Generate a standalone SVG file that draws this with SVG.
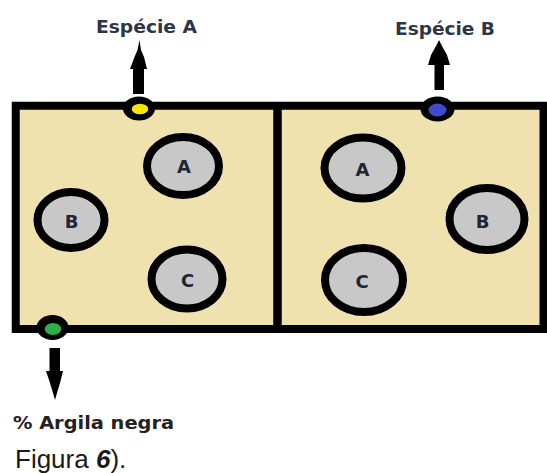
<svg xmlns="http://www.w3.org/2000/svg" width="547" height="473" viewBox="0 0 547 473">
  <style>
    .box { fill: #F0E2AE; stroke: #000; stroke-width: 8; }
    .div { stroke: #000; stroke-width: 8.5; }
    .node { fill: #C8C8C8; stroke: #000; stroke-width: 8; }
    .lbl { font-family: "DejaVu Sans", sans-serif; font-weight: bold; font-size: 18px; fill: #1F2535; text-anchor: middle; }
    .cap { font-family: "DejaVu Sans", sans-serif; font-weight: bold; font-size: 18.5px; fill: #2E3646; }
    .dot { fill: #000; }
    .arrow { fill: #000; }
  </style>
  <rect width="547" height="473" fill="#FFFFFF"/>
  <g id="container">
    <rect class="box" x="15.75" y="105.75" width="527.75" height="223.25"/>
    <line class="div" x1="277.5" y1="106" x2="277.5" y2="329"/>
  </g>
  <g id="left-A">
    <ellipse class="node" cx="183" cy="166" rx="36" ry="29"/>
    <text class="lbl" x="184" y="173">A</text>
  </g>
  <g id="left-B">
    <ellipse class="node" cx="71" cy="220" rx="33.5" ry="28"/>
    <text class="lbl" x="71.5" y="228">B</text>
  </g>
  <g id="left-C">
    <ellipse class="node" cx="187" cy="279" rx="35.5" ry="29.5"/>
    <text class="lbl" x="187.5" y="287">C</text>
  </g>
  <g id="right-A">
    <ellipse class="node" cx="363" cy="168" rx="38.5" ry="30.5"/>
    <text class="lbl" x="362.5" y="176">A</text>
  </g>
  <g id="right-B">
    <ellipse class="node" cx="487" cy="219" rx="37.5" ry="31"/>
    <text class="lbl" x="482.5" y="228">B</text>
  </g>
  <g id="right-C">
    <ellipse class="node" cx="364" cy="280" rx="39" ry="32"/>
    <text class="lbl" x="362" y="288">C</text>
  </g>
  <g id="sensor-A">
    <ellipse class="dot" cx="139" cy="108.5" rx="16" ry="12"/>
    <ellipse cx="140" cy="109" rx="8.3" ry="5.2" fill="#F7E600"/>
  </g>
  <g id="sensor-B">
    <ellipse class="dot" cx="437.5" cy="109" rx="17" ry="12.5"/>
    <ellipse cx="437.5" cy="110" rx="9" ry="6.5" fill="#3E4BD0"/>
  </g>
  <g id="sensor-clay">
    <ellipse class="dot" cx="52.5" cy="327.5" rx="16" ry="12.5"/>
    <ellipse cx="53" cy="329" rx="8.3" ry="6" fill="#2DB04A"/>
  </g>
  <g id="connectors">
    <polygon class="arrow" points="133,94 144,94 144,69 147,69 144,57 141,50 139.5,40 137.5,50 134.5,57 130,69 133,69"/>
    <polygon class="arrow" points="434.5,90 444,90 444,65 450,65 447,55 442,46 439,40 436,46 431,55 428,65 434.5,65"/>
    <polygon class="arrow" points="49.5,348 60,348 60,371 63,371 60,383 57,393 55,400 53,393 50,383 46,371 49.5,371"/>
  </g>
  <g id="label-A">
    <text class="cap" x="96" y="32.5" textLength="101" lengthAdjust="spacingAndGlyphs">Espécie A</text>
  </g>
  <g id="label-B">
    <text class="cap" x="395" y="34.5" textLength="100" lengthAdjust="spacingAndGlyphs">Espécie B</text>
  </g>
  <g id="label-clay">
    <text class="cap" x="13" y="428.5" textLength="161" lengthAdjust="spacingAndGlyphs" fill="#262020" style="fill:#262020">% Argila negra</text>
  </g>
  <g id="caption">
    <text x="15" y="468" font-family="'Liberation Sans', Arial, sans-serif" font-size="26" fill="#1A1A1A">Figura <tspan font-weight="bold" font-style="italic">6</tspan>).</text>
  </g>
</svg>
